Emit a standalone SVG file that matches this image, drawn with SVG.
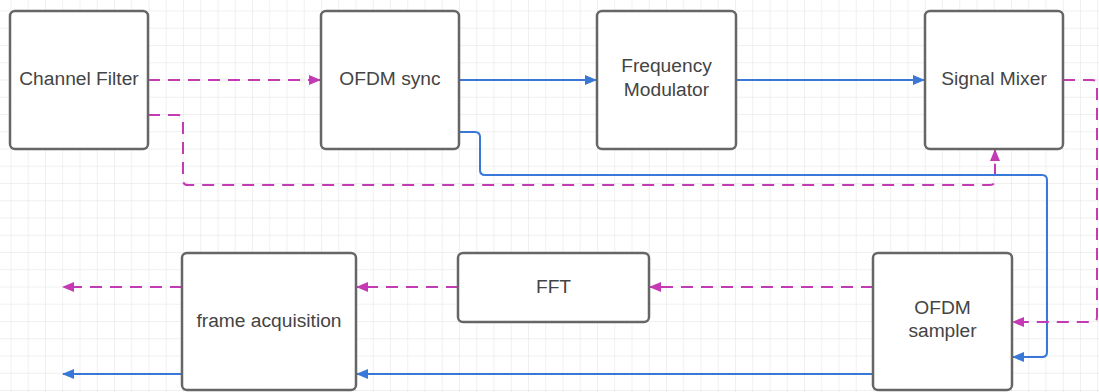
<svg xmlns="http://www.w3.org/2000/svg" width="1099" height="392" viewBox="0 0 1099 392">
<defs>
<pattern id="grid" x="10.5" y="10.5" width="17.25" height="17.25" patternUnits="userSpaceOnUse">
<path d="M0 0H17.25M0 0V17.25" fill="none" stroke="#e2e2e2" stroke-width="1"/>
</pattern>
<marker id="ap" viewBox="0 0 12 10" refX="11" refY="5" markerWidth="12" markerHeight="10" markerUnits="userSpaceOnUse" orient="auto">
<path d="M0 0L12 5L0 10z" fill="#c43ab5"/>
</marker>
<marker id="ab" viewBox="0 0 12 10" refX="11" refY="5" markerWidth="12" markerHeight="10" markerUnits="userSpaceOnUse" orient="auto">
<path d="M0 0L12 5L0 10z" fill="#3a78d8"/>
</marker>
</defs>
<style>
.box{fill:#fff;stroke:#666;stroke-width:2.5}
.t{font-family:"Liberation Sans",Arial,sans-serif;font-size:19.2px;fill:#444;text-anchor:middle;dominant-baseline:central}
.m{fill:none;stroke:#c43ab5;stroke-width:2;stroke-dasharray:12 8;marker-end:url(#ap)}
.b{fill:none;stroke:#3a78d8;stroke-width:2;marker-end:url(#ab)}
</style>
<rect width="1099" height="392" fill="#fff"/>
<rect width="1099" height="392" fill="url(#grid)"/>
<g id="connectors">
<path class="m" d="M148 80H320"/>
<path class="m" d="M148 115H178Q183 115 183 120V180Q183 185 188 185H990Q995 185 995 180V150"/>
<path class="b" d="M459 80H596"/>
<path class="b" d="M459 132H475Q480 132 480 137V170Q480 175 485 175H1042Q1047 175 1047 180V352Q1047 357 1042 357H1013"/>
<path class="b" d="M736 80H924"/>
<path class="m" d="M1063 80H1092Q1097 80 1097 85V317Q1097 322 1092 322H1013"/>
<path class="m" d="M873 287H650"/>
<path class="m" d="M458 287H357"/>
<path class="m" d="M182 287H63"/>
<path class="b" d="M873 374H357"/>
<path class="b" d="M182 374H63"/>
</g>
<g id="channel-filter"><rect class="box" x="10" y="11" width="138" height="138" rx="5"/><text class="t" x="79" y="78">Channel Filter</text></g>
<g id="ofdm-sync"><rect class="box" x="321" y="11" width="138" height="138" rx="5"/><text class="t" x="390" y="78">OFDM sync</text></g>
<g id="frequency-modulator"><rect class="box" x="597" y="11" width="139" height="138" rx="5"/><text class="t" x="666.5" y="65">Frequency</text><text class="t" x="666.5" y="89">Modulator</text></g>
<g id="signal-mixer"><rect class="box" x="925" y="11" width="138" height="138" rx="5"/><text class="t" x="994" y="78">Signal Mixer</text></g>
<g id="fft"><rect class="box" x="458" y="253" width="191" height="69" rx="5"/><text class="t" x="553.5" y="286">FFT</text></g>
<g id="frame-acquisition"><rect class="box" x="182" y="253" width="174" height="137" rx="5"/><text class="t" x="269" y="320">frame acquisition</text></g>
<g id="ofdm-sampler"><rect class="box" x="873" y="253" width="139" height="137" rx="5"/><text class="t" x="942.5" y="307">OFDM</text><text class="t" x="942.5" y="330">sampler</text></g>
</svg>
